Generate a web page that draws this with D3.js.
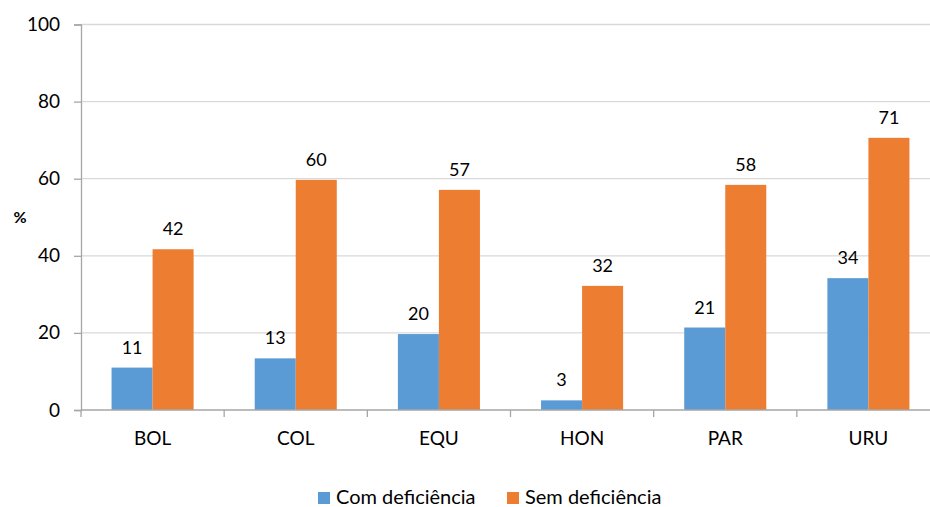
<!DOCTYPE html>
<html><head><meta charset="utf-8">
<script src="https://cdn.jsdelivr.net/npm/d3@7"></script>
<style>body{margin:0;background:#fff}svg{display:block}text{font-family:Lato,"Open Sans",sans-serif;fill:#000}</style>
</head><body><svg id="c" width="930" height="507"></svg>
<script>
const categories = ["BOL","COL","EQU","HON","PAR","URU"];
const seriesNames = ["Com deficiência","Sem deficiência"];
const comDef = [11.0,13.4,19.7,2.5,21.4,34.2];
const semDef = [41.7,59.7,57.1,32.2,58.4,70.6];
const comLabels = ["11","13","20","3","21","34"];
const semLabels = ["42","60","57","32","58","71"];
const yTicks = [0,20,40,60,80,100];
const colors = ["#5B9BD5","#ED7D31"];

const svg = d3.select("#c");
const x0 = d3.scaleBand().domain(categories).range([81, 940]).paddingInner(0).paddingOuter(0);
const x1 = d3.scaleBand().domain(seriesNames).range([0, x0.bandwidth()]).paddingInner(0).paddingOuter(0.745);
const y = d3.scaleLinear().domain([0,100]).range([410, 24.5]);

// gridlines
svg.append("g").selectAll("line").data(yTicks.filter(d=>d>0)).join("line")
  .attr("x1",81).attr("x2",940).attr("y1",d=>y(d)).attr("y2",d=>y(d))
  .attr("stroke","#d9d9d9").attr("stroke-width",1.3);

// y axis
const ya = svg.append("g").attr("transform","translate(81,0)")
  .call(d3.axisLeft(y).tickValues(yTicks).tickSize(7).tickPadding(14));
ya.select(".domain").attr("stroke","#a6a6a6").attr("stroke-width",1.3);
ya.selectAll(".tick line").attr("stroke","#a6a6a6").attr("stroke-width",1.3);
ya.selectAll(".tick text").attr("font-size",19).attr("font-family","Lato").attr("fill","#000");

// bars
const series = [comDef, semDef];
const labels = [comLabels, semLabels];
series.forEach((vals, si) => {
  svg.append("g").selectAll("rect").data(categories).join("rect")
    .attr("x", (c)=>x0(c)+x1(seriesNames[si]))
    .attr("width", x1.bandwidth())
    .attr("y", (c,i)=>y(vals[i]))
    .attr("height", (c,i)=>y(0)-y(vals[i]))
    .attr("fill", colors[si]);
  svg.append("g").selectAll("text").data(categories).join("text")
    .attr("x", (c)=>x0(c)+x1(seriesNames[si])+x1.bandwidth()/2)
    .attr("y", (c,i)=>y(vals[i])-14)
    .attr("text-anchor","middle").attr("font-size",18)
    .text((c,i)=>labels[si][i]);
});

// x axis
const xa = svg.append("g").attr("transform","translate(0,410)")
  .call(d3.axisBottom(x0).tickSize(0).tickPadding(22));
xa.select(".domain").remove();
svg.append("line").attr("x1",81).attr("x2",940).attr("y1",410).attr("y2",410)
  .attr("stroke","#a6a6a6").attr("stroke-width",1.3);
svg.append("g").selectAll("line").data(categories.concat(["_end"])).join("line")
  .attr("x1",(d,i)=>81+i*x0.bandwidth()).attr("x2",(d,i)=>81+i*x0.bandwidth())
  .attr("y1",410).attr("y2",417).attr("stroke","#a6a6a6").attr("stroke-width",1.3);
xa.selectAll(".tick text").attr("font-size",19).attr("font-family","Lato").attr("fill","#000");

// y label
svg.append("text").attr("x",20).attr("y",223).attr("text-anchor","middle")
  .attr("font-size",16).attr("font-weight","bold").text("%");

// legend
const legX = [318, 507];
seriesNames.forEach((n,i)=>{
  svg.append("rect").attr("x",legX[i]).attr("y",492).attr("width",12).attr("height",12).attr("fill",colors[i]);
  svg.append("text").attr("x",legX[i]+18).attr("y",504).attr("font-size",20).text(n);
});
</script></body></html>
